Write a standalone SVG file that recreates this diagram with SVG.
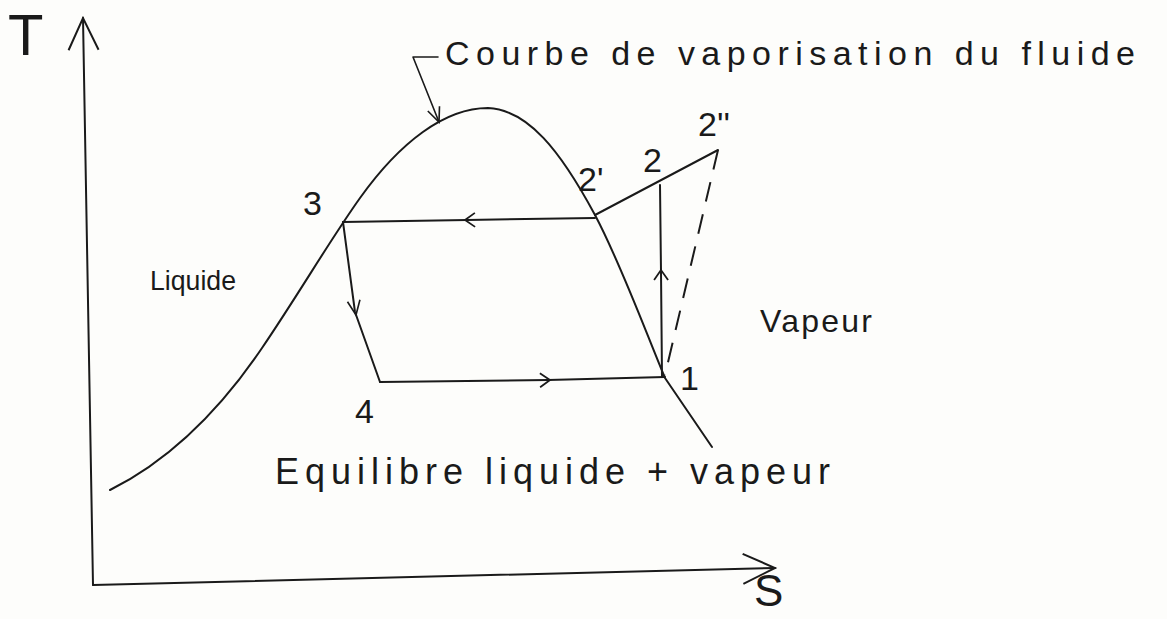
<svg xmlns="http://www.w3.org/2000/svg" width="1167" height="619" viewBox="0 0 1167 619">
<style>
.ln{fill:none;stroke:#1a1a1a;stroke-width:2;stroke-linecap:round;stroke-linejoin:round}
.thin{fill:none;stroke:#1a1a1a;stroke-width:1.6;stroke-linecap:round;stroke-linejoin:round}
.dash{fill:none;stroke:#1a1a1a;stroke-width:2;stroke-dasharray:20 13}
.hw{font-family:"Liberation Sans","DejaVu Sans",sans-serif;fill:#1a1a1a;font-weight:normal}
</style>
<defs>
<marker id="chev" viewBox="0 0 20 20" refX="10" refY="10" markerWidth="20" markerHeight="20" markerUnits="userSpaceOnUse" orient="auto">
<path d="M2,3 L12,10 L2,17" fill="none" stroke="#1a1a1a" stroke-width="1.8"/>
</marker>
<marker id="axis" viewBox="0 0 40 40" refX="36" refY="20" markerWidth="40" markerHeight="40" markerUnits="userSpaceOnUse" orient="auto">
<path d="M4,5 L36,20 L4,35" fill="none" stroke="#1a1a1a" stroke-width="2"/>
</marker>
<marker id="tip" viewBox="0 0 20 20" refX="18" refY="10" markerWidth="18" markerHeight="18" markerUnits="userSpaceOnUse" orient="auto">
<path d="M2,3 L18,10 L2,17" fill="none" stroke="#1a1a1a" stroke-width="1.8"/>
</marker>
</defs>
<rect width="1167" height="619" fill="#fdfdfb"/>

<g id="axes">
<path class="ln" d="M93,585 L83,18" marker-end="url(#axis)"/>
<path class="ln" d="M93,585 L775,568" marker-end="url(#axis)"/>
<text class="hw" x="8" y="55" font-size="58">T</text>
<text class="hw" x="754" y="606" font-size="44">S</text>
</g>

<g id="saturation-curve">
<path class="ln" d="M110,490 C170,460 220,410 262,348 C300,292 330,240 360,198 C400,142 445,108 488,108 C528,110 560,150 595,215 C620,262 645,330 665,378 L712,447"/>
<path class="thin" d="M438,57 L413,57 L439,122" marker-end="url(#tip)"/>
<text class="hw" x="445" y="65" font-size="34" textLength="690" lengthAdjust="spacing">Courbe de vaporisation du fluide</text>
</g>

<g id="connectors">
<path class="ln" d="M595,218 L467,220 L343,222" marker-mid="url(#chev)"/>
<path class="ln" d="M343,222 L355,312 L380,382"/>
<path class="ln" d="M343,222 L352,290 L356,315" marker-end="url(#tip)" stroke-opacity="0"/>
<path class="ln" d="M380,382 L548,380 L665,377" marker-mid="url(#chev)"/>
<path class="ln" d="M662,377 L661,272 L660,185" marker-mid="url(#chev)"/>
<path class="ln" d="M595,215 L718,150"/>
<path class="dash" d="M718,150 L665,375"/>
</g>

<g id="p1"><text class="hw" x="680" y="390" font-size="34">1</text></g>
<g id="p2"><text class="hw" x="643" y="172" font-size="34">2</text></g>
<g id="p2p"><text class="hw" x="578" y="191" font-size="34">2'</text></g>
<g id="p2pp"><text class="hw" x="698" y="136" font-size="34">2''</text></g>
<g id="p3"><text class="hw" x="303" y="215" font-size="34">3</text></g>
<g id="p4"><text class="hw" x="355" y="423" font-size="34">4</text></g>

<g id="regions">
<text class="hw" x="150" y="290" font-size="28" textLength="86" lengthAdjust="spacingAndGlyphs">Liquide</text>
<text class="hw" x="760" y="332" font-size="32" textLength="112" lengthAdjust="spacing">Vapeur</text>
<text class="hw" x="275" y="484" font-size="36" textLength="555" lengthAdjust="spacing">Equilibre liquide + vapeur</text>
</g>
</svg>
